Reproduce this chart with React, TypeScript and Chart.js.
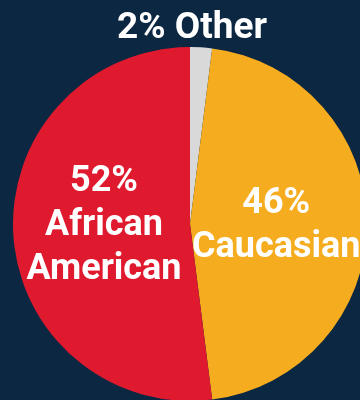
import React, { useEffect, useRef } from "react";
import { Chart, registerables } from "chart.js";

Chart.register(...registerables);

const categories = ["Other", "Caucasian", "African American"];
const percentLabels = ["2%", "46%", "52%"];
const labelLines = [["2% Other"], ["46%", "Caucasian"], ["52%", "African", "American"]];
const values = [2, 46, 52];
const sliceColors = ["#d9d9d9", "#f5ad1f", "#e01a2e"];
const BG = "#0b2742";

const labelPlugin = {
  id: "sliceLabels",
  afterDatasetsDraw(chart: any) {
    const ctx = chart.ctx;
    const meta = chart.getDatasetMeta(0);
    ctx.save();
    ctx.fillStyle = "#ffffff";
    ctx.textAlign = "center";
    ctx.textBaseline = "middle";
    meta.data.forEach((arc: any, i: number) => {
      const p = arc.getProps(["x", "y", "startAngle", "endAngle", "outerRadius"], true);
      const lines = labelLines[i];
      if (i === 0) {
        ctx.font = "bold 37px Roboto";
        ctx.fillText(lines[0], p.x + 2, p.y - p.outerRadius - 18);
        return;
      }
      ctx.font = "bold 36px Roboto";
      const mid = (p.startAngle + p.endAngle) / 2;
      const cx = p.x + Math.cos(mid) * p.outerRadius * 0.487;
      const cy = p.y + 2;
      const lh = 44;
      const top = cy - ((lines.length - 1) * lh) / 2;
      lines.forEach((t: string, k: number) => ctx.fillText(t, cx, top + k * lh));
    });
    ctx.restore();
  },
};

export default function App() {
  const ref = useRef<HTMLCanvasElement>(null);
  useEffect(() => {
    document.body.style.margin = "0";
    document.body.style.background = BG;
    const chart = new Chart(ref.current!, {
      type: "pie",
      data: {
        labels: categories,
        datasets: [
          {
            data: values,
            backgroundColor: sliceColors,
            borderWidth: 0,
          },
        ],
      },
      options: {
        responsive: false,
        animation: false,
        layout: { padding: { left: 13, top: 47, right: 13, bottom: 9 } },
        plugins: {
          legend: { display: false },
          tooltip: { enabled: false },
        },
      },
      plugins: [labelPlugin],
    });
    return () => chart.destroy();
  }, []);
  return (
    <div style={{ position: "relative", width: 360, height: 400, overflow: "hidden", background: BG }}>
      <canvas ref={ref} width={380} height={410} style={{ position: "absolute", left: 0, top: 0 }} />
    </div>
  );
}
